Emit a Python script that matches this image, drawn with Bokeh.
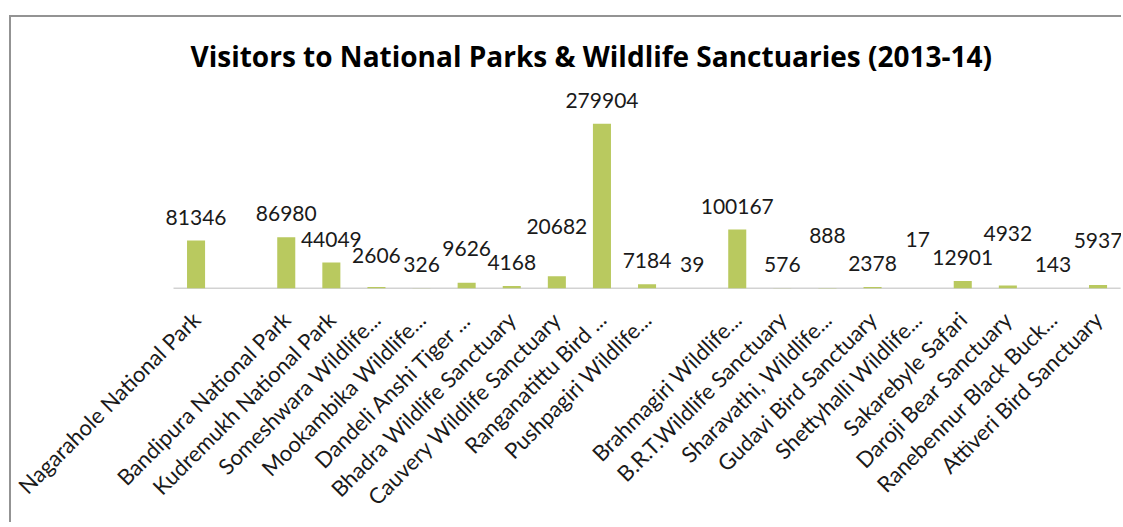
import math
from bokeh.plotting import figure
from bokeh.models import ColumnDataSource, Range1d, FixedTicker, LabelSet
from bokeh.core.properties import value
from bokeh.embed import file_html
from bokeh.resources import INLINE

# ---- data ----
categories = [
    "Nagarahole National Park",
    "",
    "Bandipura National Park",
    "Kudremukh National Park",
    "Someshwara Wildlife...",
    "Mookambika Wildlife...",
    "Dandeli Anshi Tiger ...",
    "Bhadra Wildlife Sanctuary",
    "Cauvery Wildlife Sanctuary",
    "Ranganatittu Bird ...",
    "Pushpagiri Wildlife...",
    "",
    "Brahmagiri Wildlife...",
    "B.R.T.Wildlife Sanctuary",
    "Sharavathi, Wildlife...",
    "Gudavi Bird Sanctuary",
    "Shettyhalli Wildlife...",
    "Sakarebyle Safari",
    "Daroji Bear Sanctuary",
    "Ranebennur Black Buck...",
    "Attiveri Bird Sanctuary",
]
visitors = [81346, None, 86980, 44049, 2606, 326, 9626, 4168, 20682, 279904,
            7184, 39, 100167, 576, 888, 2378, 17, 12901, 4932, 143, 5937]

# extra pixel lift of some data labels (as placed in the original chart)
label_lift_px = [0, 0, 0, 0, 8, 0, 11, 0, 26, 0,
                 0, 0, 0, 0, 29, 0, 25, 0, 29, 0, 21]

FONT = "Lato"
BAR_COLOR = "#B9C95F"
N = len(categories)

xs, tops, texts, offs = [], [], [], []
for i, v in enumerate(visitors):
    if v is None:
        continue
    xs.append(i + 1)
    tops.append(v)
    texts.append(str(v))
    offs.append(16 + label_lift_px[i])

src = ColumnDataSource(dict(x=xs, top=tops, text=texts, off=offs))

BORDER = "#939393"
p = figure(width=1112, height=507, output_backend="svg", toolbar_location=None,
           x_range=Range1d(-0.01, N + 0.52),
           y_range=Range1d(0, 341500),
           min_border_left=141, min_border_right=0,
           min_border_top=72, min_border_bottom=230,
           title="Visitors to National Parks & Wildlife Sanctuaries (2013-14)",
           styles={"vertical-align": "top",
                   "margin-left": "9px", "margin-top": "15px",
                   "background": (f"linear-gradient({BORDER}, {BORDER}) 0 0 / 2px 100% no-repeat, "
                                  f"linear-gradient({BORDER}, {BORDER}) 0 0 / 100% 2px no-repeat")})
p.border_fill_color = None
p.background_fill_color = None

p.title.text_font = "Open Sans"
p.title.text_font_size = "28px"
p.title.text_font_style = "bold"
p.title.text_color = "#000000"
p.title.align = "left"
p.title.offset = 40
p.title.standoff = 26

# category baseline (axis line) spanning the categories
p.segment(x0=[0.5], x1=[N + 0.5], y0=[0], y1=[0], line_color="#A6A6A6",
          line_width=1.5)

p.vbar(x="x", top="top", width=0.4, source=src, fill_color=BAR_COLOR,
       line_color=None)

labels = LabelSet(x="x", y="top", text="text", y_offset="off", source=src,
                  text_align="center", text_baseline="alphabetic",
                  text_font=value(FONT), text_font_size=value("21px"),
                  text_color="#1a1a1a")
p.add_layout(labels)

p.yaxis.visible = False
p.grid.visible = False
p.outline_line_color = None

xa = p.xaxis[0]
xa.ticker = FixedTicker(ticks=list(range(1, N + 1)))
xa.major_label_overrides = {i + 1: c for i, c in enumerate(categories)}
xa.major_label_orientation = math.pi / 4
xa.major_label_text_font = FONT
xa.major_label_text_font_size = "22px"
xa.major_label_text_color = "#1a1a1a"
xa.major_label_standoff = 21
xa.major_tick_line_color = None
xa.minor_tick_line_color = None
xa.axis_line_color = None

open("out.html", "w").write(file_html(p, INLINE))
